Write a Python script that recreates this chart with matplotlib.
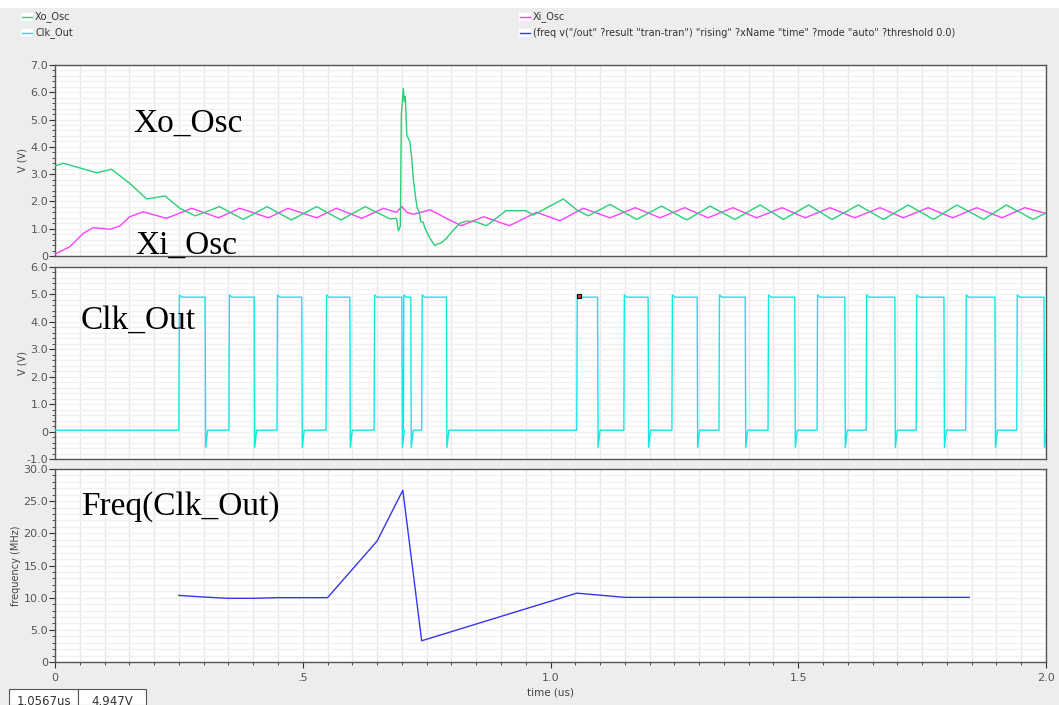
#!/usr/bin/env python3
"""Transient simulation waveforms: crystal oscillator nodes, clock output and its frequency."""

import matplotlib
matplotlib.use("Agg")
import matplotlib.pyplot as plt
import numpy as np
from matplotlib.patches import Rectangle
from matplotlib.ticker import FuncFormatter, MultipleLocator

W, H = 1059, 705
BG = "#EDEDED"
GREEN = "#2ACF78"
MAGENTA = "#FF40FF"
CYAN = "#14E6E6"
BLUE = "#3535F5"

# Xo_Osc node (us, V)
XO_T = [0.000, 0.017, 0.084, 0.114, 0.151, 0.185, 0.222, 0.252, 0.283, 0.332, 0.380, 0.428,
        0.477, 0.528, 0.577, 0.626, 0.676, 0.689, 0.693, 0.697, 0.699, 0.703, 0.705, 0.707,
        0.710, 0.716, 0.720, 0.723, 0.728, 0.731, 0.735, 0.738, 0.743, 0.746, 0.750, 0.754,
        0.757, 0.762, 0.767, 0.772, 0.777, 0.784, 0.790, 0.804, 0.817, 0.831, 0.848, 0.871,
        0.910, 0.950, 0.965, 1.026, 1.053, 1.076, 1.120, 1.174, 1.224, 1.275, 1.322, 1.372,
        1.423, 1.470, 1.521, 1.568, 1.621, 1.672, 1.722, 1.773, 1.820, 1.874, 1.920, 1.974, 2.000]
XO_V = [3.30, 3.40, 3.05, 3.18, 2.66, 2.09, 2.20, 1.75, 1.47, 1.81, 1.34, 1.81,
        1.32, 1.81, 1.32, 1.81, 1.36, 1.38, 0.92, 1.10, 5.20, 6.14, 5.65, 5.85,
        4.43, 4.19, 3.58, 2.85, 2.11, 1.75, 1.62, 1.26, 1.24, 1.05, 0.89, 0.75,
        0.65, 0.50, 0.38, 0.45, 0.46, 0.55, 0.65, 0.95, 1.20, 1.28, 1.26, 1.11,
        1.66, 1.66, 1.50, 2.09, 1.69, 1.47, 1.89, 1.34, 1.83, 1.32, 1.83, 1.34,
        1.87, 1.34, 1.87, 1.34, 1.87, 1.34, 1.87, 1.34, 1.87, 1.34, 1.87, 1.34, 1.58]

# Xi_Osc node (us, V)
XI_T = [0.000, 0.030, 0.057, 0.077, 0.111, 0.131, 0.151, 0.178, 0.225, 0.276, 0.330, 0.373,
        0.431, 0.470, 0.528, 0.568, 0.619, 0.663, 0.689, 0.700, 0.710, 0.723, 0.757, 0.790,
        0.820, 0.865, 0.917, 0.972, 1.019, 1.066, 1.120, 1.171, 1.221, 1.271, 1.318, 1.368,
        1.416, 1.467, 1.514, 1.564, 1.614, 1.665, 1.712, 1.762, 1.812, 1.860, 1.911, 1.957, 2.000]
XI_V = [0.07, 0.34, 0.83, 1.04, 0.98, 1.10, 1.44, 1.62, 1.38, 1.75, 1.40, 1.75,
        1.40, 1.75, 1.40, 1.75, 1.38, 1.75, 1.60, 1.81, 1.60, 1.53, 1.69, 1.38,
        1.11, 1.44, 1.11, 1.60, 1.29, 1.75, 1.40, 1.77, 1.40, 1.77, 1.40, 1.77,
        1.40, 1.77, 1.40, 1.77, 1.40, 1.77, 1.40, 1.77, 1.40, 1.77, 1.40, 1.77, 1.56]

# Clk_Out edges (us)
CLK_RISE = [0.250, 0.351, 0.448, 0.547, 0.644, 0.703, 0.740, 1.053, 1.148, 1.245, 1.340,
            1.439, 1.538, 1.637, 1.738, 1.838, 1.941]
CLK_FALL = [0.303, 0.402, 0.498, 0.595, 0.700, 0.718, 0.790, 1.095, 1.197, 1.296, 1.393,
            1.493, 1.594, 1.695, 1.794, 1.897, 1.996]
CLK_LOW = 0.05
CLK_HIGH = 4.90
CLK_OVERSHOOT = 4.98
CLK_UNDERSHOOT = -0.58

# freq(Clk_Out) (us, MHz)
FREQ_T = [0.250, 0.300, 0.350, 0.400, 0.450, 0.550, 0.650, 0.702, 0.740, 1.053, 1.150, 1.845]
FREQ_MHZ = [10.35, 10.1, 9.9, 9.9, 10.0, 10.0, 18.8, 26.7, 3.3, 10.7, 10.05, 10.05]

CURSOR = (1.0567, 4.947)
X_TICKS = [0.0, 0.5, 1.0, 1.5, 2.0]
X_TICK_LABELS = ["0", ".5", "1.0", "1.5", "2.0"]


def fx(px):
    return px / W


def fy(py):
    return 1 - py / H


def clk_waveform():
    t = [0.0]
    v = [CLK_LOW]
    edges = sorted([(r, "r") for r in CLK_RISE] + [(f, "f") for f in CLK_FALL])
    for time, kind in edges:
        if kind == "r":
            t += [time, time + 0.001, time + 0.006]
            v += [CLK_LOW, CLK_OVERSHOOT, CLK_HIGH]
        else:
            t += [time, time + 0.001, time + 0.005]
            v += [CLK_HIGH, CLK_UNDERSHOOT, CLK_LOW]
    t.append(2.0)
    v.append(v[-1] if t[-2] < 2.0 else CLK_LOW)
    return np.array(t), np.array(v)


def volt_fmt(v, _):
    return "0" if abs(v) < 1e-9 else f"{v:.1f}"


def style_panel(ax, ymin, ymax, major, minor, label, label_x, show_x):
    ax.set_xlim(0, 2.0)
    ax.set_ylim(ymin, ymax)
    ax.set_facecolor("white")
    ax.xaxis.set_major_locator(MultipleLocator(0.5))
    ax.xaxis.set_minor_locator(MultipleLocator(0.05))
    ax.yaxis.set_major_locator(MultipleLocator(major))
    ax.yaxis.set_minor_locator(MultipleLocator(minor))
    ax.yaxis.set_major_formatter(FuncFormatter(volt_fmt))
    ax.grid(True, which="both", axis="x", color="#E8E8E8", linewidth=1.0, zorder=0)
    ax.grid(True, which="both", axis="y", color="#F1F1F1", linewidth=1.0, zorder=0)
    ax.set_axisbelow(True)
    ax.tick_params(axis="y", which="major", direction="out", length=4, width=0.8,
                   colors="#333333", labelcolor="#555555", labelsize=8, pad=1)
    ax.tick_params(axis="y", which="minor", direction="out", length=2, width=0.6, colors="#333333")
    ax.set_ylabel(label, fontsize=7, color="#444444")
    ax.yaxis.set_label_coords(label_x, 0.5)
    if show_x:
        ax.set_xticks(X_TICKS)
        ax.set_xticklabels(X_TICK_LABELS)
        ax.tick_params(axis="x", which="major", direction="out", length=4, width=0.8,
                       colors="#333333", labelcolor="#555555", labelsize=8, pad=4)
        ax.tick_params(axis="x", which="minor", direction="out", length=2, width=0.6, colors="#333333")
    else:
        ax.tick_params(axis="x", which="both", bottom=False, labelbottom=False)
    for spine in ax.spines.values():
        spine.set_color("#555555")
        spine.set_linewidth(1.0)


def main():
    fig = plt.figure(figsize=(W / 100, H / 100), dpi=100)
    fig.patch.set_facecolor(BG)
    fig.add_artist(Rectangle((0, fy(8)), 1, 1, transform=fig.transFigure,
                             facecolor="white", edgecolor="none"))

    ax1 = fig.add_axes([fx(55), fy(256), fx(991), 191 / H])
    ax2 = fig.add_axes([fx(55), fy(459), fx(991), 192 / H])
    ax3 = fig.add_axes([fx(55), fy(662), fx(991), 193 / H])

    ax1.plot(XI_T, XI_V, color=MAGENTA, linewidth=1.0, solid_joinstyle="round", zorder=3)
    ax1.plot(XO_T, XO_V, color=GREEN, linewidth=1.0, solid_joinstyle="round", zorder=3)
    style_panel(ax1, 0, 7.0, 1.0, 0.2, "V (V)", -0.028, False)

    ct, cv = clk_waveform()
    ax2.plot(ct, cv, color=CYAN, linewidth=1.0, zorder=3)
    ax2.plot([CURSOR[0]], [CURSOR[1]], marker="s", markersize=3.5, markerfacecolor="#E03030",
             markeredgecolor="black", markeredgewidth=0.8, zorder=4)
    style_panel(ax2, -1.0, 6.0, 1.0, 0.2, "V (V)", -0.028, False)

    ax3.plot(FREQ_T, FREQ_MHZ, color=BLUE, linewidth=1.0, zorder=3)
    style_panel(ax3, 0, 30.0, 5.0, 1.0, "frequency (MHz)", -0.034, True)
    ax3.set_xlabel("time (us)", fontsize=7.5, color="#444444", labelpad=3)

    # legend header
    legend = [
        (22, 17, GREEN, "Xo_Osc"),
        (22, 33, CYAN, "Clk_Out"),
        (520, 17, MAGENTA, "Xi_Osc"),
        (520, 33, BLUE, '(freq v("/out" ?result "tran-tran") "rising" ?xName "time" '
                        '?mode "auto" ?threshold 0.0)'),
    ]
    for x, y, color, text in legend:
        fig.add_artist(Rectangle((fx(x - 1), fy(y + 4)), fx(12), 8 / H, transform=fig.transFigure,
                                 facecolor="white", edgecolor="none"))
        fig.add_artist(plt.Line2D([fx(x), fx(x + 10)], [fy(y), fy(y)], transform=fig.transFigure,
                                  color=color, linewidth=1.0))
        fig.text(fx(x + 13), fy(y), text, fontsize=7, color="#333333", va="center", ha="left")

    # big annotations
    serif = ["Liberation Serif", "DejaVu Serif"]
    for x, y, text in [(133, 132, "Xo_Osc"), (135, 254, "Xi_Osc"),
                       (81, 329, "Clk_Out"), (81, 515, "Freq(Clk_Out)")]:
        fig.text(fx(x), fy(y), text, fontsize=24, family=serif, color="black",
                 va="baseline", ha="left", zorder=10)

    # cursor readout boxes at the bottom, partly cut by the figure edge as in the source
    for x0, x1, text in [(9, 78, "1.0567us"), (78, 146, "4.947V")]:
        fig.add_artist(Rectangle((fx(x0), 0), fx(x1 - x0), fy(689), transform=fig.transFigure,
                                 facecolor="white", edgecolor="#555555", linewidth=0.8))
        fig.text(fx((x0 + x1) / 2), fy(695), text, fontsize=8.5, color="#333333",
                 ha="center", va="top")

    fig.savefig("out.png", dpi=100, facecolor=BG)
    plt.close(fig)


if __name__ == "__main__":
    main()
